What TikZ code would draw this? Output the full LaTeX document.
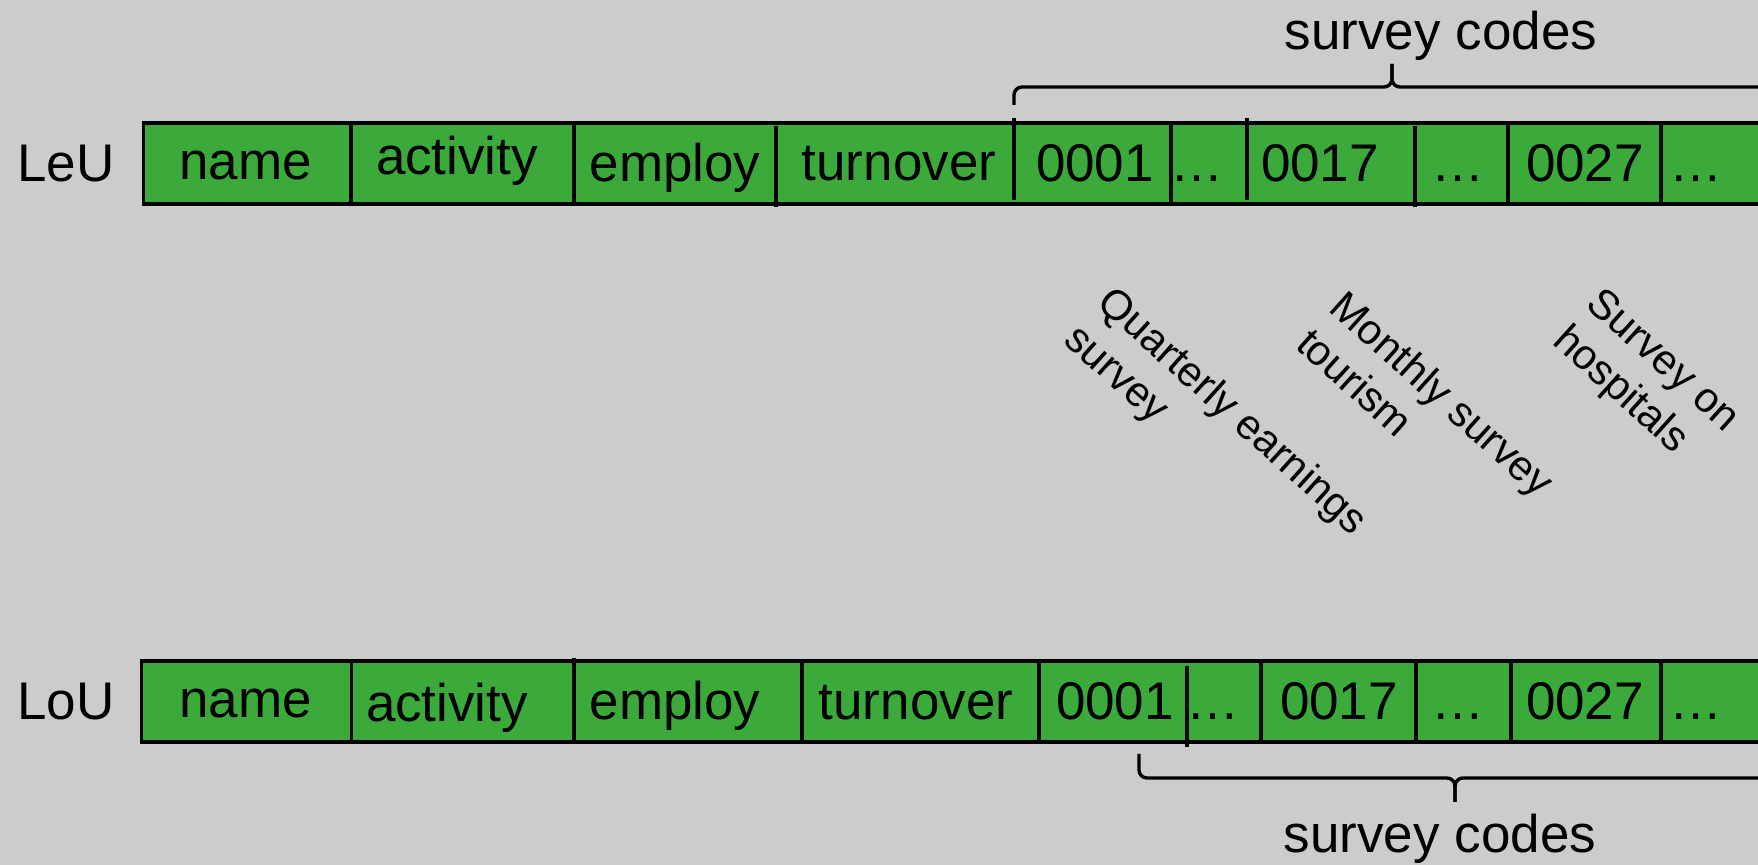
\documentclass[tikz,border=0pt]{standalone}
\usepackage{fontspec}
\setmainfont{Liberation Sans}
\definecolor{bg}{HTML}{CCCCCC}
\definecolor{cellgreen}{HTML}{3BAA3B}
\begin{document}
\begin{tikzpicture}[x=0.5pt,y=-0.5pt,line width=1.7pt,
  lbl/.style={font=\fontsize{26.5}{30}\selectfont,inner sep=0pt,anchor=base},
  rot/.style={font=\fontsize{21}{25}\selectfont,inner sep=0pt,anchor=north west,rotate=-42,align=left},
  divider/.style={line width=1.7pt},
  bracepath/.style={line width=1.7pt,rounded corners=4pt}]
\useasboundingbox (0,0) rectangle (1758,865);
\fill[bg] (0,0) rectangle (1758,865);
\begin{scope}
\clip (0,0) rectangle (1758,865);
% ---------- top bar (LeU)
\fill[cellgreen] (143.5,123) rectangle (1780,204);
\draw (1780,123) -- (143.5,123) -- (143.5,204) -- (1780,204);
\draw[divider] (351,123) -- (351,203);
\draw[divider] (574,123) -- (574,203);
\draw[divider] (776,126) -- (776,207);
\draw[divider] (1014,118) -- (1014,200);
\draw[divider] (1171,125) -- (1171,206);
\draw[divider] (1247,118) -- (1247,200);
\draw[divider] (1415,126) -- (1415,207);
\draw[divider] (1508,125) -- (1508,206);
\draw[divider] (1661,125) -- (1661,203);
\node[lbl] (leu) at (66,181.5) {LeU};
\node[lbl] (t1) at (245.5,180) {name};
\node[lbl] (t2) at (457,175) {activity};
\node[lbl] (t3) at (675,181.5) {employ};
\node[lbl] (t4) at (899,181) {turnover};
\node[lbl] (t5) at (1095,182) {0001};
\node[lbl] (t6) at (1197,182) {…};
\node[lbl] (t7) at (1320,182) {0017};
\node[lbl] (t8) at (1458,182) {…};
\node[lbl] (t9) at (1585,182) {0027};
\node[lbl] (t10) at (1696,182) {…};
% top brace
\coordinate (tbl) at (1014,105);
\coordinate (tbm) at (1392,64);
\coordinate (tbr) at (1770,105);
\draw[bracepath] (tbl) |- (1392,87) -- (tbm);
\draw[bracepath] (tbm) -- (1392,87) -| (tbr);
\node[lbl] (tsc) at (1441,50) {survey codes};
% ---------- bottom bar (LoU)
\fill[cellgreen] (141.5,661) rectangle (1780,742);
\draw (1780,661) -- (141.5,661) -- (141.5,742) -- (1780,742);
\draw[divider] (351.5,662) -- (351.5,742);
\draw[divider] (574,658) -- (574,740);
\draw[divider] (802,663) -- (802,742);
\draw[divider] (1039,663) -- (1039,740);
\draw[divider] (1187,666) -- (1187,747);
\draw[divider] (1261,663) -- (1261,740);
\draw[divider] (1416,663) -- (1416,743);
\draw[divider] (1511,663) -- (1511,742);
\draw[divider] (1661,663) -- (1661,742);
\node[lbl] (lou) at (66,720) {LoU};
\node[lbl] (b1) at (245.5,718) {name};
\node[lbl] (b2) at (447,721.5) {activity};
\node[lbl] (b3) at (675,720) {employ};
\node[lbl] (b4) at (916,720) {turnover};
\node[lbl] (b5) at (1115,720) {0001};
\node[lbl] (b6) at (1213,720) {…};
\node[lbl] (b7) at (1339,720) {0017};
\node[lbl] (b8) at (1458,720) {…};
\node[lbl] (b9) at (1585,720) {0027};
\node[lbl] (b10) at (1696,720) {…};
% bottom brace
\coordinate (bbl) at (1139,754);
\coordinate (bbm) at (1455,802);
\coordinate (bbr) at (1771,754);
\draw[bracepath] (bbl) |- (1455,778) -- (bbm);
\draw[bracepath] (bbm) -- (1455,778) -| (bbr);
\node[lbl] (bsc) at (1440,853) {survey codes};
% ---------- rotated survey names
\node[rot] (s1) at (1116,280) {Quarterly earnings\\survey};
\node[rot] (s2) at (1348,285) {Monthly survey\\tourism};
\node[rot] (s3) at (1604,282) {Survey on\\hospitals};
\end{scope}
\end{tikzpicture}
\end{document}
